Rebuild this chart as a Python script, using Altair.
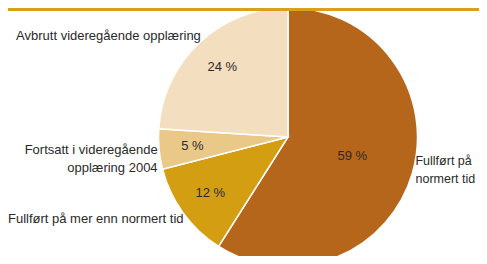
import math
import altair as alt
import pandas as pd

categories = [
    "Fullført på normert tid",
    "Fullført på mer enn normert tid",
    "Fortsatt i videregående opplæring 2004",
    "Avbrutt videregående opplæring",
]
display_labels = [
    "Fullført på\nnormert tid",
    "Fullført på mer enn normert tid",
    "Fortsatt i videregående\nopplæring 2004",
    "Avbrutt videregående opplæring",
]
values = [59, 12, 5, 24]
colors = ["#B5661A", "#D49E12", "#EAC888", "#F3DFC0"]

df = pd.DataFrame({
    "cat": categories,
    "label": display_labels,
    "value": values,
    "pct": [f"{v} %" for v in values],
    "order": list(range(len(values))),
})

FONT = "Liberation Sans"
CX, CY = 280, 129
R = 129.5

theta_scale = alt.Scale(domain=[0, 100], range=[0, 2 * math.pi])

base = alt.Chart(df).transform_window(
    cum="sum(value)", sort=[alt.SortField("order")], frame=[None, 0]
).transform_calculate(
    start="datum.cum - datum.value", mid="datum.cum - datum.value / 2"
)

arcs = base.mark_arc(outerRadius=R, stroke="white", strokeWidth=1.5).encode(
    theta=alt.Theta("start:Q", scale=theta_scale, stack=False),
    theta2="cum:Q",
    color=alt.Color("cat:N", scale=alt.Scale(domain=categories, range=colors), legend=None),
    x=alt.value(CX),
    y=alt.value(CY),
)

def pct_layer(flt, r):
    return base.transform_filter(flt).mark_text(
        font=FONT, fontSize=13, color="#2a2a2a", baseline="middle", align="center"
    ).encode(
        theta=alt.Theta("mid:Q", scale=theta_scale, stack=False),
        radius=alt.value(r),
        text="pct:N",
        x=alt.value(CX),
        y=alt.value(CY),
    )

def outer_layer(flt, align, dx, dy, size):
    return base.transform_filter(flt).mark_text(
        font=FONT, fontSize=size, color="#2a2a2a", baseline="middle", align=align,
        lineBreak="\n", lineHeight=18, dx=dx, dy=dy,
    ).encode(
        theta=alt.Theta("mid:Q", scale=theta_scale, stack=False),
        radius=alt.value(139),
        text="label:N",
        x=alt.value(CX),
        y=alt.value(CY),
    )

top_bar = alt.Chart(pd.DataFrame({"a": [0]})).mark_rect(color="#D9A11A").encode(
    x=alt.value(0), x2=alt.value(471), y=alt.value(0), y2=alt.value(3)
)

chart = alt.layer(
    arcs,
    pct_layer("datum.value > 50", 67),
    pct_layer("datum.value <= 50", 96),
    outer_layer("datum.mid < 50", "left", -6, -15, 12.5),
    outer_layer("datum.mid >= 50", "right", 8, 0, 13),
    top_bar,
).properties(
    width=471, height=248, autosize=alt.AutoSizeParams(type="none"), padding=0,
    background="white",
).configure_view(stroke=None)

chart.save("out.html", embed_options={"renderer": "svg", "actions": False})
